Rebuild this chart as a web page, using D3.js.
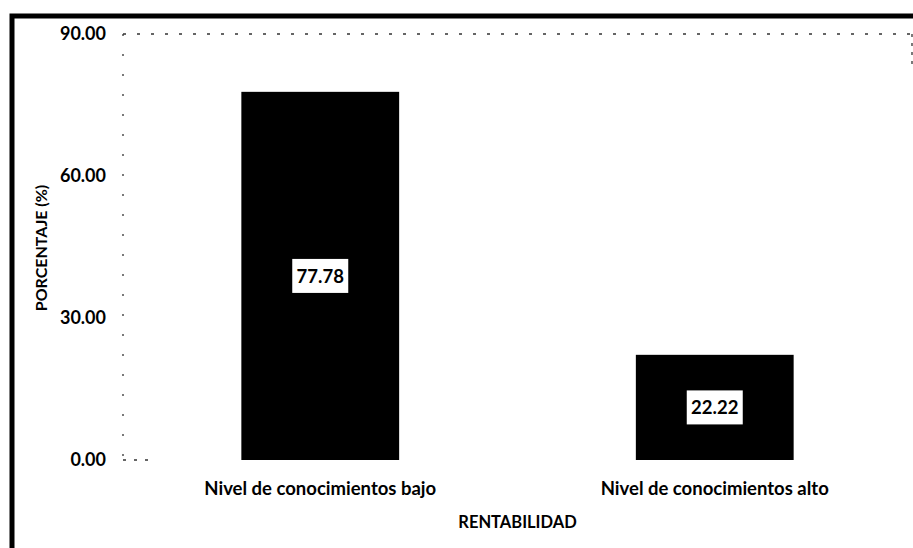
<!DOCTYPE html>
<html><head><meta charset="utf-8">
<script src="https://cdn.jsdelivr.net/npm/d3@7/dist/d3.min.js"></script>
<style>body{margin:0;background:#fff}svg{display:block}</style>
</head><body>
<svg id="c" width="913" height="548"></svg>
<script>
const categories = ["Nivel de conocimientos bajo", "Nivel de conocimientos alto"];
const values = [77.78, 22.22];
const yTicks = [0, 30, 60, 90];
const xTitle = "RENTABILIDAD";
const yTitle = "PORCENTAJE (%)";

(function () {
const svg = d3.select("#c");
const font = "Lato, 'Open Sans', sans-serif";
const W = 913, H = 548;
const mLeft = 123, mRight = 912, mTop = 34, mBottom = 460;

// frame (top and left edges visible in the reference)
svg.append("path").attr("d", `M12,${H} L12,16 L${W},16`)
  .attr("fill", "none").attr("stroke", "#000").attr("stroke-width", 5);

const x = d3.scaleBand().domain(categories).range([mLeft, mRight])
  .paddingInner(0.6).paddingOuter(0.3);
const y = d3.scaleLinear().domain([0, 90]).range([mBottom, mTop]);

// faint dotted gridline at top and dotted y axis line
svg.append("line").attr("x1", mLeft).attr("x2", mRight).attr("y1", y(90)).attr("y2", y(90))
  .attr("stroke", "#333").attr("stroke-width", 1.3).attr("stroke-dasharray", "3,11");
svg.append("line").attr("x1", mLeft).attr("x2", mLeft).attr("y1", y(90)).attr("y2", y(0))
  .attr("stroke", "#333").attr("stroke-width", 1.3).attr("stroke-dasharray", "2,18");
svg.append("line").attr("x1", mRight).attr("x2", mRight).attr("y1", y(90)).attr("y2", y(90) + 30)
  .attr("stroke", "#333").attr("stroke-width", 1.3).attr("stroke-dasharray", "3,6");
svg.append("line").attr("x1", mLeft).attr("x2", mLeft + 26).attr("y1", y(0)).attr("y2", y(0))
  .attr("stroke", "#333").attr("stroke-width", 1.3).attr("stroke-dasharray", "3,8");

// y axis tick labels
const yAxis = d3.axisLeft(y).tickValues(yTicks).tickFormat(d3.format(".2f")).tickSize(0).tickPadding(17);
const gy = svg.append("g").attr("transform", `translate(${mLeft},0)`).call(yAxis);
gy.select(".domain").remove();
gy.selectAll("text").attr("font-family", font).attr("font-weight", 700)
  .attr("font-size", 18).attr("fill", "#000");

// bars
svg.selectAll("rect.bar").data(values).join("rect").attr("class", "bar")
  .attr("x", (d, i) => x(categories[i])).attr("width", x.bandwidth())
  .attr("y", d => y(d)).attr("height", d => y(0) - y(d)).attr("fill", "#000");

// value labels in white boxes
const lab = svg.selectAll("g.lab").data(values).join("g").attr("class", "lab")
  .attr("transform", (d, i) => `translate(${x(categories[i]) + x.bandwidth() / 2},${(y(d) + y(0)) / 2})`);
lab.append("rect").attr("x", -28).attr("y", -17).attr("width", 56).attr("height", 34)
  .attr("fill", "#fff");
lab.append("text").text(d => d3.format(".2f")(d)).attr("text-anchor", "middle")
  .attr("dy", "0.36em").attr("font-family", font).attr("font-weight", 700)
  .attr("font-size", 18.5).attr("fill", "#000");

// x axis labels
const xAxis = d3.axisBottom(x).tickSize(0).tickPadding(22);
const gx = svg.append("g").attr("transform", `translate(0,${mBottom})`).call(xAxis);
gx.select(".domain").remove();
gx.selectAll("text").attr("font-family", font).attr("font-weight", 700)
  .attr("font-size", 18.5).attr("fill", "#000");

// titles
svg.append("text").text(xTitle).attr("x", (mLeft + mRight) / 2).attr("y", 528)
  .attr("text-anchor", "middle").attr("font-family", font).attr("font-weight", 700)
  .attr("font-size", 16.5).attr("fill", "#000");
svg.append("text").text(yTitle).attr("transform", "translate(47,248) rotate(-90)")
  .attr("text-anchor", "middle").attr("font-family", font).attr("font-weight", 700)
  .attr("font-size", 16).attr("fill", "#000");
})();
</script>
</body></html>
